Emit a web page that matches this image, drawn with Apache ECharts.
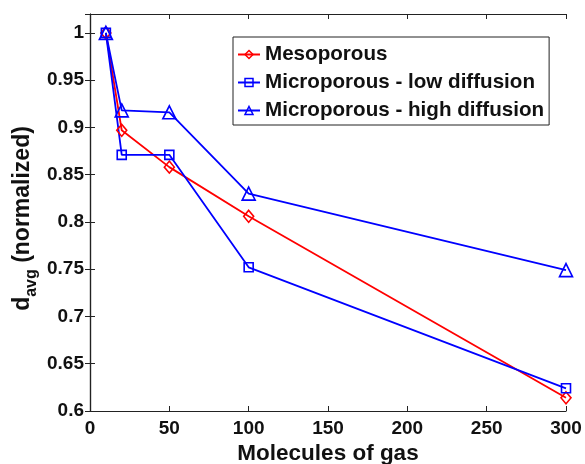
<!DOCTYPE html>
<html><head><meta charset="utf-8">
<script src="https://cdn.jsdelivr.net/npm/echarts@6/dist/echarts.min.js"></script>
<style>html,body{margin:0;padding:0;background:#fff}#c{width:585px;height:464px}</style>
</head><body><div id="c"></div>
<script>
const xValues = [10, 20, 50, 100, 300];
const mesoporous = [1.0, 0.897, 0.858, 0.806, 0.614];
const microLow = [1.0, 0.871, 0.871, 0.752, 0.624];
const microHigh = [1.0, 0.918, 0.916, 0.830, 0.749];
const seriesNames = ['Mesoporous', 'Microporous - low diffusion', 'Microporous - high diffusion'];

const FONT = '"Liberation Sans", Arial, sans-serif';
function pairs(ys){ return xValues.map((x,i)=>[x, ys[i]]); }
function mk(name, ys, color, symbol, size){
  return {
    name, type:'line', data:pairs(ys), symbol, symbolSize:size,
    lineStyle:{color, width:1.8}, itemStyle:{color:'rgba(255,255,255,0)', borderColor:color, borderWidth:1.6},
    emphasis:{disabled:true}, animation:false, z:3
  };
}
const chart = echarts.init(document.getElementById('c'));
const axisCommon = {
  axisLine:{show:true, lineStyle:{color:'#222', width:1.2}},
  axisTick:{show:true, inside:true, length:5, lineStyle:{color:'#222'}},
  splitLine:{show:false}
};
chart.setOption({
  backgroundColor:'#fff',
  animation:false,
  grid:{left:90, right:19, top:14, bottom:53, containLabel:false, outerBoundsMode:'none'},
  legend:{
    orient:'vertical', left:233, top:37,
    data:seriesNames,
    backgroundColor:'#fff',
    borderColor:'#222', borderWidth:1, padding:[7,5,4,4], itemGap:7,
    itemWidth:22, itemHeight:10,
    itemStyle:{color:'rgba(255,255,255,0)', borderWidth:1.5},
    textStyle:{fontFamily:FONT, fontWeight:'bold', fontSize:20.6, lineHeight:20, color:'#111'}
  },
  xAxis:[
    Object.assign({type:'value', min:0, max:300, interval:50, position:'bottom',
      name:'Molecules of gas', nameLocation:'middle', nameGap:31, nameMoveOverlap:false,
      nameTextStyle:{fontFamily:FONT, fontWeight:'bold', fontSize:22.5, color:'#111'},
      axisLabel:{fontFamily:FONT, fontWeight:'bold', fontSize:19, color:'#111', margin:8}}, axisCommon),
    Object.assign({type:'value', min:0, max:300, interval:50, position:'top',
      axisLabel:{show:false}}, axisCommon)
  ],
  yAxis:[
    Object.assign({type:'value', min:0.6, max:1.02, interval:0.05, position:'left',
      name:'{d|d}{s|avg}{n| (normalized)}', nameLocation:'middle', nameGap:56, nameRotate:90, nameMoveOverlap:false,
      nameTextStyle:{fontFamily:FONT, fontWeight:'bold', fontSize:23, color:'#111', padding:[0,12,0,0],
        rich:{
          d:{fontFamily:FONT, fontWeight:'bold', fontSize:23, color:'#111', verticalAlign:'bottom'},
          s:{fontFamily:FONT, fontWeight:'bold', fontSize:16, color:'#111', verticalAlign:'bottom', padding:[0,0,-6,0]},
          n:{fontFamily:FONT, fontWeight:'bold', fontSize:23, color:'#111', verticalAlign:'bottom'}
        }},
      axisLabel:{fontFamily:FONT, fontWeight:'bold', fontSize:19, color:'#111', margin:6, showMaxLabel:false}}, axisCommon),
    Object.assign({type:'value', min:0.6, max:1.02, interval:0.05, position:'right',
      axisLabel:{show:false}}, axisCommon)
  ],
  series:[
    mk(seriesNames[0], mesoporous, '#ff0000', 'diamond', [10,12]),
    mk(seriesNames[1], microLow, '#0000ff', 'rect', 9),
    mk(seriesNames[2], microHigh, '#0000ff', 'triangle', 13)
  ]
});
</script></body></html>
